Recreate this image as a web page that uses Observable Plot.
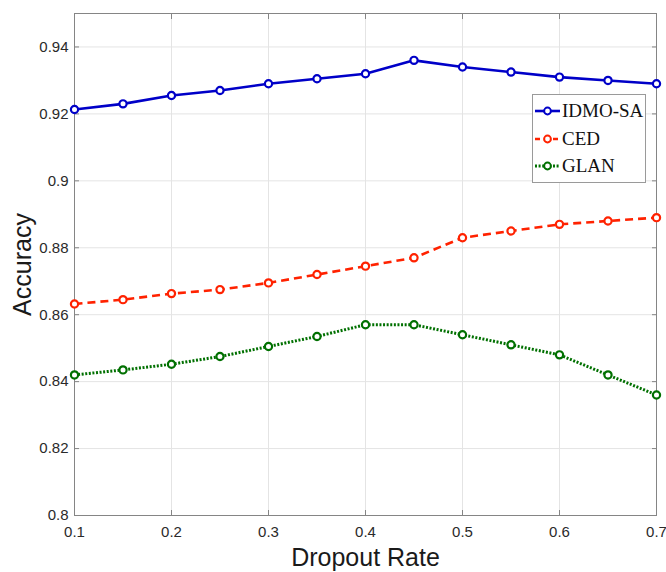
<!DOCTYPE html>
<html><head><meta charset="utf-8">
<script src="https://cdn.jsdelivr.net/npm/d3@7"></script>
<script src="https://cdn.jsdelivr.net/npm/@observablehq/plot@0.6"></script>
<style>
body{margin:0;background:#fff;}
#wrap{position:relative;width:666px;height:572px;overflow:hidden;}
#wrap svg{font-family:"Liberation Sans",Arial,sans-serif;}
#legend{position:absolute;left:532px;top:94px;width:114px;height:89px;border:1px solid #9a9a9a;background:#fff;box-sizing:border-box;font-family:"Liberation Serif","Times New Roman",serif;font-size:19px;color:#111;}
#legend .row{position:absolute;left:0;height:24px;display:flex;align-items:center;}
#legend svg{display:block;}
</style></head><body><div id="wrap"></div>
<script>
const dropout = [0.1,0.15,0.2,0.25,0.3,0.35,0.4,0.45,0.5,0.55,0.6,0.65,0.7];
const idmoSA = [0.9213,0.9230,0.9255,0.9270,0.9290,0.9305,0.9320,0.9360,0.9340,0.9325,0.9310,0.9300,0.9290];
const ced    = [0.8632,0.8645,0.8663,0.8675,0.8695,0.8720,0.8745,0.8770,0.8830,0.8850,0.8870,0.8880,0.8890];
const glan   = [0.8420,0.8435,0.8452,0.8475,0.8505,0.8535,0.8570,0.8570,0.8540,0.8510,0.8480,0.8420,0.8360];
const seriesNames = ["IDMO-SA","CED","GLAN"];
const seriesColors = ["#0000c8","#ff2200","#007000"];
const seriesDash = [null,"8,5","2,1.6"];
const seriesWidth = [2.6,2.6,3];
const xTicks = [0.1,0.2,0.3,0.4,0.5,0.6,0.7];
const yTicks = [0.8,0.82,0.84,0.86,0.88,0.9,0.92,0.94];
const xLabel = "Dropout Rate";
const yLabel = "Accuracy";

const allSeries = [idmoSA, ced, glan];
const marks = [
  Plot.gridX(xTicks, {stroke:"#e4e4e4", strokeOpacity:1}),
  Plot.gridY(yTicks, {stroke:"#e4e4e4", strokeOpacity:1}),
  Plot.frame({stroke:"#858585"}),
  Plot.axisX(xTicks, {anchor:"bottom", tickSize:-5, tickPadding:16, tickFormat:d=>String(d), fontSize:15, color:"#2a2a2a", stroke:"#858585", label:null}),
  Plot.axisX(xTicks, {anchor:"top", tickSize:-5, tickFormat:()=>"", stroke:"#858585", label:null}),
  Plot.axisY(yTicks, {anchor:"left", tickSize:-5, tickPadding:11, tickFormat:d=>String(d), fontSize:15, color:"#2a2a2a", stroke:"#858585", label:null}),
  Plot.axisY(yTicks, {anchor:"right", tickSize:-5, tickFormat:()=>"", stroke:"#858585", label:null}),
  Plot.text([xLabel], {frameAnchor:"bottom", dy:50, fontSize:25, fill:"#1a1a1a"}),
  Plot.text([yLabel], {frameAnchor:"left", textAnchor:"middle", rotate:-90, dx:-52, fontSize:25, fill:"#1a1a1a"})
];
allSeries.forEach((vals, i) => {
  const rows = dropout.map((x, j) => ({x, y: vals[j]}));
  marks.push(Plot.line(rows, {x:"x", y:"y", stroke:seriesColors[i], strokeWidth:seriesWidth[i], strokeDasharray:seriesDash[i], strokeLinecap:"butt"}));
  marks.push(Plot.dot(rows, {x:"x", y:"y", r:3.6, stroke:seriesColors[i], strokeWidth:2.2, fill:"white"}));
});

const chart = Plot.plot({
  width:666, height:572,
  marginLeft:74, marginRight:10, marginTop:13, marginBottom:57,
  x:{domain:[0.1,0.7]},
  y:{domain:[0.8,0.95]},
  style:{background:"white", fontFamily:"Liberation Sans, Arial, sans-serif"},
  marks
});
const wrap = document.getElementById("wrap");
wrap.appendChild(chart);

const legend = document.createElement("div");
legend.id = "legend";
const rowTops = [4, 32, 59];
seriesNames.forEach((name, i) => {
  const row = document.createElement("div");
  row.className = "row";
  row.style.top = rowTops[i] + "px";
  const ns = "http://www.w3.org/2000/svg";
  const s = document.createElementNS(ns, "svg");
  s.setAttribute("width", 29); s.setAttribute("height", 24);
  const ln = document.createElementNS(ns, "line");
  ln.setAttribute("x1", 2); ln.setAttribute("x2", 27); ln.setAttribute("y1", 12); ln.setAttribute("y2", 12);
  ln.setAttribute("stroke", seriesColors[i]); ln.setAttribute("stroke-width", seriesWidth[i]);
  if (seriesDash[i]) ln.setAttribute("stroke-dasharray", i === 1 ? "5,4" : seriesDash[i]);
  const c = document.createElementNS(ns, "circle");
  c.setAttribute("cx", 14.5); c.setAttribute("cy", 12); c.setAttribute("r", 3.4);
  c.setAttribute("fill", "white"); c.setAttribute("stroke", seriesColors[i]); c.setAttribute("stroke-width", 2);
  s.appendChild(ln); s.appendChild(c);
  const t = document.createElement("span");
  t.textContent = name;
  row.appendChild(s); row.appendChild(t);
  legend.appendChild(row);
});
wrap.appendChild(legend);
</script>
</body></html>
